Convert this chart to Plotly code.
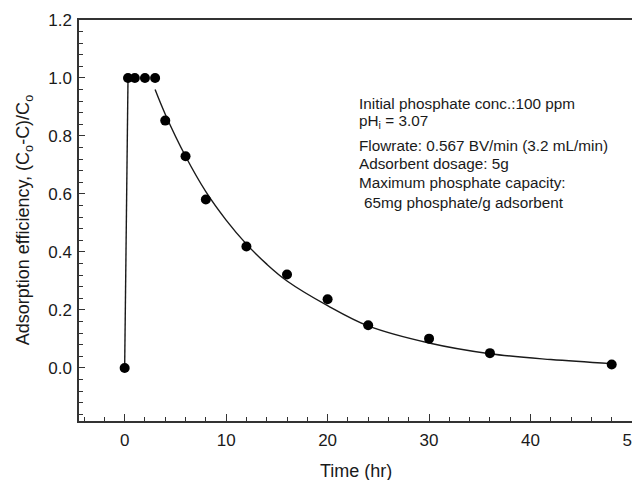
import plotly.graph_objects as go

# Measured data
time_hr = [0, 0.33, 1, 2, 3, 4, 6, 8, 12, 16, 20, 24, 30, 36, 48]
efficiency = [0.0, 1.0, 1.0, 1.0, 1.0, 0.853, 0.730, 0.581, 0.419, 0.322, 0.237, 0.147, 0.101, 0.051, 0.012]

# Initial rise line (from t=0 to first saturated point)
rise_x = [0, 0.33]
rise_y = [0.0, 1.0]

# Fitted decay curve
fit_x = [3, 4, 6, 8, 10, 12, 14, 16, 20, 24, 30, 36, 42, 48]
fit_y = [0.96, 0.875, 0.73, 0.608, 0.51, 0.427, 0.358, 0.300, 0.215, 0.145, 0.086, 0.049, 0.029, 0.015]

x_ticks = [0, 10, 20, 30, 40, 50]
y_ticks = [0.0, 0.2, 0.4, 0.6, 0.8, 1.0, 1.2]

x_title = "Time (hr)"
y_title = "Adsorption efficiency, (C<sub>o</sub>-C)/C<sub>o</sub>"

note_lines = [
    "Initial phosphate conc.:100 ppm",
    "pH<sub>i</sub> = 3.07",
    "Flowrate: 0.567 BV/min (3.2 mL/min)",
    "Adsorbent dosage: 5g",
    "Maximum phosphate capacity:",
    "65mg phosphate/g adsorbent",
]
note_y = [0.793, 0.746, 0.686, 0.641, 0.594, 0.546]

FONT = "Liberation Sans, Arial, sans-serif"
INK = "#1a1a1a"

fig = go.Figure()
fig.add_trace(go.Scatter(x=rise_x, y=rise_y, mode="lines",
                         line=dict(color=INK, width=1.4), showlegend=False))
fig.add_trace(go.Scatter(x=fit_x, y=fit_y, mode="lines",
                         line=dict(color=INK, width=1.4, shape="spline", smoothing=1.0),
                         showlegend=False))
fig.add_trace(go.Scatter(x=time_hr, y=efficiency, mode="markers",
                         marker=dict(color="black", size=10), showlegend=False))

for i, (txt, yy) in enumerate(zip(note_lines, note_y)):
    fig.add_annotation(x=0.502, y=yy, xref="paper", yref="paper", text=txt,
                       showarrow=False, xanchor="left", yanchor="middle",
                       xshift=5 if i == 5 else 0,
                       font=dict(family=FONT, size=15.3, color=INK))

fig.add_annotation(x=0.5, y=-0.1247, xref="paper", yref="paper", text=x_title,
                   showarrow=False, xanchor="center", yanchor="middle",
                   font=dict(family=FONT, size=18, color=INK))
fig.add_annotation(x=-0.098, y=0.5, xref="paper", yref="paper", text=y_title,
                   showarrow=False, xanchor="center", yanchor="middle", textangle=-90,
                   font=dict(family=FONT, size=18, color=INK))

axis_common = dict(
    showline=True, linecolor="#333333", linewidth=1.5, mirror=True,
    ticks="inside", tickcolor="#333333", tickwidth=1.3,
    showgrid=False, zeroline=False, automargin=False,
    ticklabeloverflow="allow",
    tickfont=dict(family=FONT, size=17, color=INK),
)

fig.update_xaxes(
    range=[-4.5, 50], tickvals=x_ticks, ticklen=7,
    minor=dict(dtick=2, tick0=0, ticks="inside", ticklen=4, tickcolor="#333333", tickwidth=1.2),
    ticklabelstandoff=3,
    **axis_common,
)
fig.update_yaxes(
    range=[-0.183, 1.2], tickvals=y_ticks, tickformat=".1f", ticklen=6,
    minor=dict(dtick=0.04, tick0=0, ticks="inside", ticklen=4, tickcolor="#333333", tickwidth=1.2),
    ticklabelstandoff=2,
    **axis_common,
)

# page body adds an 8px offset, so the figure is sized to end at the window edge
fig.update_layout(
    width=632, height=472,
    margin=dict(l=71, r=8, t=12, b=59),
    plot_bgcolor="white", paper_bgcolor="white",
    font=dict(family=FONT, color=INK),
)

fig.write_html("out.html")
